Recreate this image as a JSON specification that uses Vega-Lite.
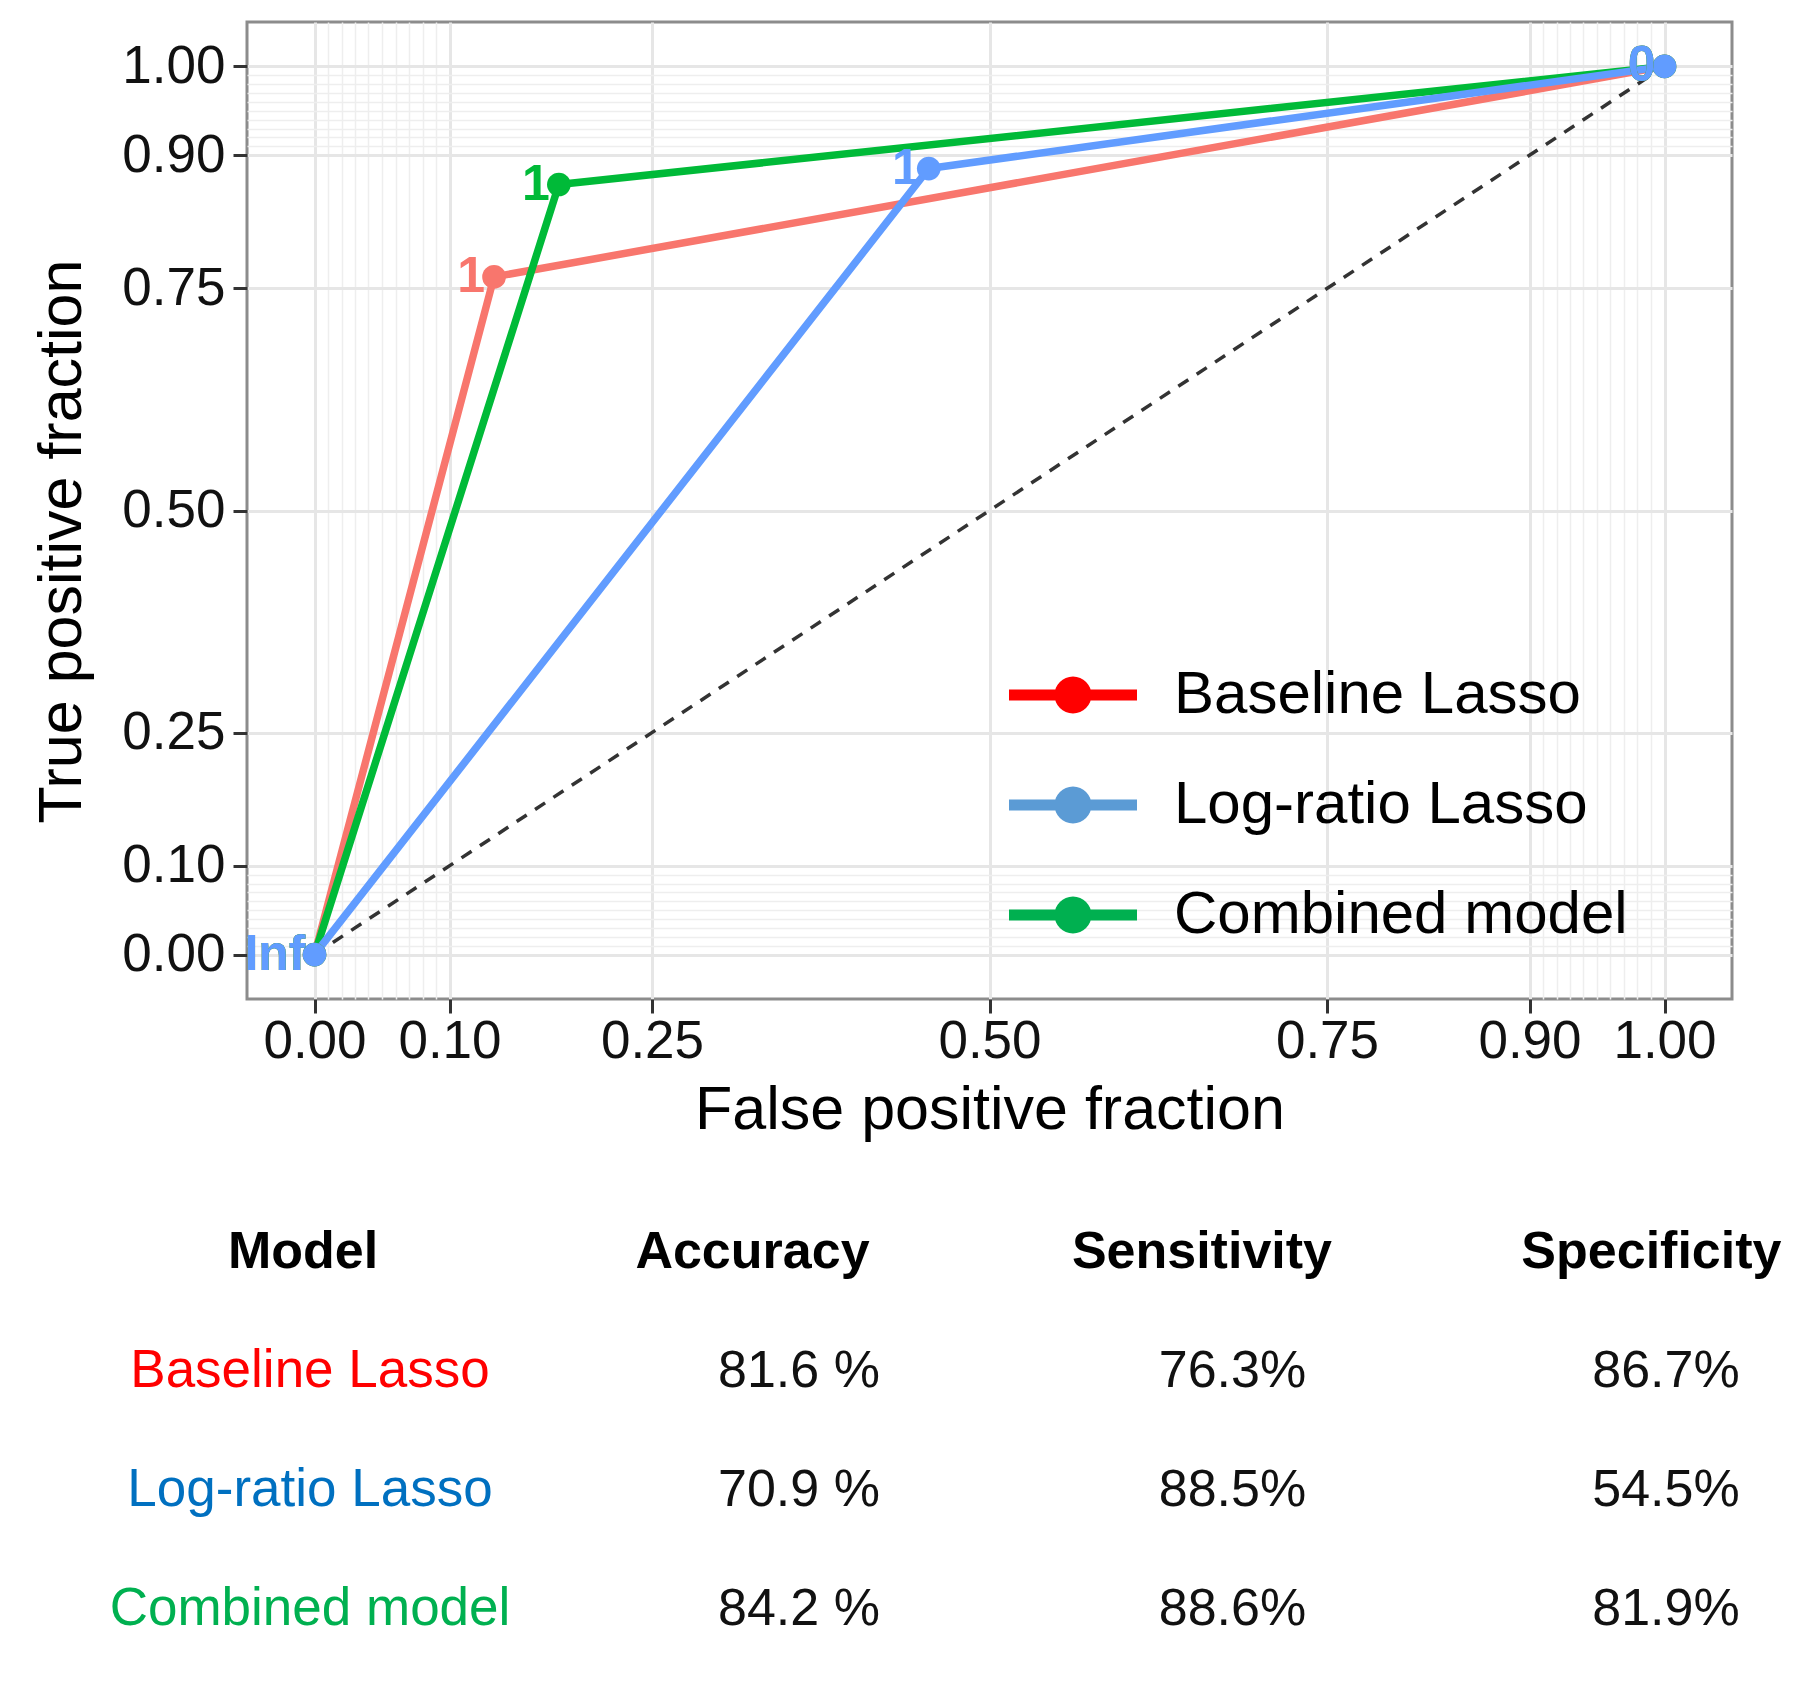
{
  "$schema": "https://vega.github.io/schema/vega-lite/v6.json",
  "background": "white",
  "padding": {"left": 30, "top": 20, "right": 5, "bottom": 5},
  "autosize": {"type": "pad"},
  "config": {
    "font": "Liberation Sans",
    "view": {"stroke": null},
    "concat": {"spacing": 50}
  },
  "datasets": {
    "roc": [
      {"model": "Baseline Lasso", "fpr": 0, "tpr": 0, "cutoff": "Inf"},
      {"model": "Baseline Lasso", "fpr": 0.133, "tpr": 0.763, "cutoff": "1"},
      {"model": "Baseline Lasso", "fpr": 1, "tpr": 1, "cutoff": "0"},
      {"model": "Combined model", "fpr": 0, "tpr": 0, "cutoff": "Inf"},
      {"model": "Combined model", "fpr": 0.181, "tpr": 0.867, "cutoff": "1"},
      {"model": "Combined model", "fpr": 1, "tpr": 1, "cutoff": "0"},
      {"model": "Log-ratio Lasso", "fpr": 0, "tpr": 0, "cutoff": "Inf"},
      {"model": "Log-ratio Lasso", "fpr": 0.455, "tpr": 0.885, "cutoff": "1"},
      {"model": "Log-ratio Lasso", "fpr": 1, "tpr": 1, "cutoff": "0"}
    ],
    "diag": [
      {"x": 0, "y": 0},
      {"x": 1, "y": 1}
    ],
    "metrics": [
      {"model": "Baseline Lasso", "Accuracy": "81.6 %", "Sensitivity": "76.3%", "Specificity": "86.7%"},
      {"model": "Log-ratio Lasso", "Accuracy": "70.9 %", "Sensitivity": "88.5%", "Specificity": "54.5%"},
      {"model": "Combined model", "Accuracy": "84.2 %", "Sensitivity": "88.6%", "Specificity": "81.9%"}
    ],
    "headers": [
      {"col": "Model"},
      {"col": "Accuracy"},
      {"col": "Sensitivity"},
      {"col": "Specificity"}
    ]
  },
  "resolve": {"scale": {"color": "independent"}},
  "vconcat": [
    {
      "width": 1485,
      "height": 977,
      "view": {"stroke": "#8C8C8C", "strokeWidth": 3},
      "resolve": {"axis": {"x": "independent", "y": "independent"}},
      "layer": [
        {
          "data": {"name": "diag"},
          "mark": {"type": "line", "color": "#333333", "strokeWidth": 3.5, "strokeDash": [12, 10]},
          "encoding": {
            "x": {
              "field": "x", "type": "quantitative",
              "scale": {"domain": [-0.05, 1.05], "nice": false, "zero": false},
              "axis": {
                "orient": "top", "values": [0.01,0.02,0.03,0.04,0.05,0.06,0.07,0.08,0.09,0.91,0.92,0.93,0.94,0.95,0.96,0.97,0.98,0.99],
                "grid": true, "gridColor": "#EEEEEE", "gridWidth": 1.5,
                "labels": false, "ticks": false, "domain": false, "title": null
              }
            },
            "y": {
              "field": "y", "type": "quantitative",
              "scale": {"domain": [-0.05, 1.05], "nice": false, "zero": false},
              "axis": {
                "orient": "right", "values": [0.01,0.02,0.03,0.04,0.05,0.06,0.07,0.08,0.09,0.91,0.92,0.93,0.94,0.95,0.96,0.97,0.98,0.99],
                "grid": true, "gridColor": "#EEEEEE", "gridWidth": 1.5,
                "labels": false, "ticks": false, "domain": false, "title": null
              }
            }
          }
        },
        {
          "data": {"name": "roc"},
          "mark": {"type": "line", "strokeWidth": 7.5},
          "encoding": {
            "x": {
              "field": "fpr", "type": "quantitative",
              "scale": {"domain": [-0.05, 1.05], "nice": false, "zero": false},
              "axis": {
                "orient": "bottom", "values": [0, 0.1, 0.25, 0.5, 0.75, 0.9, 1], "format": ".2f",
                "grid": true, "gridColor": "#E6E6E6", "gridWidth": 3,
                "domain": false, "ticks": true, "tickSize": 14, "tickWidth": 3, "tickColor": "#333333",
                "labelFontSize": 53, "labelColor": "#111111", "labelPadding": 2, "labelOverlap": false, "labelFlush": false,
                "title": "False positive fraction", "titleFontSize": 61, "titleFontWeight": "normal", "titleColor": "#000000", "titlePadding": 12
              }
            },
            "y": {
              "field": "tpr", "type": "quantitative",
              "scale": {"domain": [-0.05, 1.05], "nice": false, "zero": false},
              "axis": {
                "orient": "left", "values": [0, 0.1, 0.25, 0.5, 0.75, 0.9, 1], "format": ".2f",
                "grid": true, "gridColor": "#E6E6E6", "gridWidth": 3,
                "domain": false, "ticks": true, "tickSize": 14, "tickWidth": 3, "tickColor": "#333333",
                "labelFontSize": 53, "labelColor": "#111111", "labelPadding": 8, "labelOverlap": false, "labelFlush": false,
                "title": "True positive fraction", "titleFontSize": 61, "titleFontWeight": "normal", "titleColor": "#000000", "titlePadding": 28, "titleY": 519
              }
            },
            "color": {
              "field": "model", "type": "nominal",
              "scale": {"domain": ["Baseline Lasso", "Combined model", "Log-ratio Lasso"], "range": ["#F8766D", "#00BA38", "#619CFF"]},
              "legend": null
            }
          }
        },
        {
          "data": {"name": "roc"},
          "mark": {"type": "point", "filled": true, "size": 560, "opacity": 1},
          "encoding": {
            "x": {"field": "fpr", "type": "quantitative", "scale": {"domain": [-0.05, 1.05], "nice": false, "zero": false}, "axis": null},
            "y": {"field": "tpr", "type": "quantitative", "scale": {"domain": [-0.05, 1.05], "nice": false, "zero": false}, "axis": null},
            "color": {"field": "model", "type": "nominal", "legend": null}
          }
        },
        {
          "data": {"name": "roc"},
          "mark": {"type": "text", "align": "right", "baseline": "middle", "dx": -9, "fontSize": 50, "fontWeight": "bold"},
          "encoding": {
            "x": {"field": "fpr", "type": "quantitative", "scale": {"domain": [-0.05, 1.05], "nice": false, "zero": false}, "axis": null},
            "y": {"field": "tpr", "type": "quantitative", "scale": {"domain": [-0.05, 1.05], "nice": false, "zero": false}, "axis": null},
            "text": {"field": "cutoff"},
            "color": {"field": "model", "type": "nominal", "legend": null}
          }
        },
        {
          "data": {"name": "roc"},
          "mark": {"type": "point", "filled": true, "opacity": 0},
          "encoding": {
            "x": {"field": "fpr", "type": "quantitative", "scale": {"domain": [-0.05, 1.05], "nice": false, "zero": false}, "axis": null},
            "y": {"field": "tpr", "type": "quantitative", "scale": {"domain": [-0.05, 1.05], "nice": false, "zero": false}, "axis": null},
            "fill": {
              "field": "model", "type": "nominal",
              "scale": {"domain": ["Baseline Lasso", "Log-ratio Lasso", "Combined model"], "range": ["#FF0000", "#5B9BD5", "#00B050"]},
              "legend": {
                "orient": "none", "legendX": 796, "legendY": 643, "title": null, "padding": 0,
                "symbolType": "M-3.2,-0.275L3.2,-0.275L3.2,0.275L-3.2,0.275Z M0.925,0A0.925,0.925,0,1,1,-0.925,0A0.925,0.925,0,1,1,0.925,0Z",
                "symbolSize": 1600, "symbolStrokeWidth": 0, "symbolOpacity": 1,
                "labelFontSize": 60, "labelColor": "#000000", "labelOffset": 71, "labelLimit": 2000,
                "rowPadding": 50
              }
            }
          }
        }
      ]
    },
    {
      "width": 1485,
      "height": 477,
      "view": {"stroke": null},
      "resolve": {"scale": {"x": "independent"}},
      "layer": [
        {
          "data": {"name": "headers"},
          "mark": {"type": "text", "fontSize": 52, "fontWeight": "bold", "baseline": "middle", "color": "#000000"},
          "encoding": {
            "x": {"field": "col", "type": "nominal", "scale": {"type": "point", "domain": ["Model", "Accuracy", "Sensitivity", "Specificity"], "padding": 0.152, "align": 0.41}, "axis": null},
            "y": {"datum": "header", "type": "nominal", "scale": {"type": "point", "domain": ["header", "Baseline Lasso", "Log-ratio Lasso", "Combined model"], "padding": 0.5}, "axis": null},
            "text": {"field": "col"}
          }
        },
        {
          "data": {"name": "metrics"},
          "mark": {"type": "text", "fontSize": 53, "baseline": "middle", "dx": 7},
          "encoding": {
            "x": {"datum": "Model", "type": "nominal", "scale": {"type": "point", "domain": ["Model", "Accuracy", "Sensitivity", "Specificity"], "padding": 0.152, "align": 0.41}, "axis": null},
            "y": {"field": "model", "type": "nominal", "axis": null},
            "text": {"field": "model"},
            "color": {
              "field": "model", "type": "nominal",
              "scale": {"domain": ["Baseline Lasso", "Log-ratio Lasso", "Combined model"], "range": ["#FF0000", "#0070C0", "#00B050"]},
              "legend": null
            }
          }
        },
        {
          "data": {"name": "metrics"},
          "transform": [{"fold": ["Accuracy", "Sensitivity", "Specificity"], "as": ["col", "val"]}],
          "mark": {"type": "text", "fontSize": 52, "baseline": "middle", "color": "#111111"},
          "encoding": {
            "x": {"field": "col", "type": "nominal", "scale": {"type": "point", "domain": ["Model", "Accuracy", "Sensitivity", "Specificity"], "padding": 0.2128, "align": 0.642}, "axis": null},
            "y": {"field": "model", "type": "nominal", "axis": null},
            "text": {"field": "val"}
          }
        }
      ]
    }
  ]
}
